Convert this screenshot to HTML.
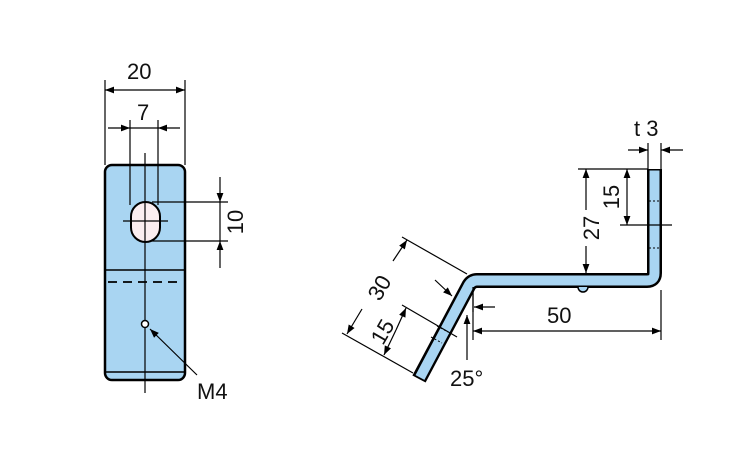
<!DOCTYPE html>
<html><head><meta charset="utf-8"><style>
html,body{margin:0;padding:0;background:#fff;width:750px;height:450px;overflow:hidden}
text{font-family:"Liberation Sans",sans-serif;font-size:22px;fill:#111}
</style></head><body>
<svg width="750" height="450" viewBox="0 0 750 450" xmlns="http://www.w3.org/2000/svg">
<defs>
<marker id="a" viewBox="0 0 10 10" refX="10" refY="5" markerWidth="13" markerHeight="9" markerUnits="userSpaceOnUse" orient="auto"><path d="M0,1.2 L10,5 L0,8.8 z" fill="#000"/></marker>
</defs>
<g stroke="#000" fill="none" stroke-width="1.2">
<rect x="105" y="165" width="80" height="215" rx="7" fill="#a9d5f2" stroke-width="2.5"/>
<line x1="105" y1="270" x2="185" y2="270" stroke-width="1.6"/>
<line x1="106" y1="372" x2="184" y2="372" stroke-width="1.6"/>
<line x1="108" y1="282" x2="183" y2="282" stroke-width="1.8" stroke-dasharray="9,6"/>
<rect x="131" y="202" width="29" height="40" rx="14.5" fill="#fbeef0" stroke-width="2"/>
<line x1="145" y1="153" x2="145" y2="393"/>
<line x1="123" y1="221" x2="168" y2="221"/>
<circle cx="145" cy="324" r="3.5" fill="#fff" stroke-width="1.5"/>
<line x1="197" y1="375" x2="150" y2="329" marker-end="url(#a)"/>
<line x1="105" y1="80" x2="105" y2="165"/><line x1="185" y1="80" x2="185" y2="165"/>
<line x1="145" y1="90" x2="105" y2="90" marker-end="url(#a)"/><line x1="145" y1="90" x2="185" y2="90" marker-end="url(#a)"/>
<line x1="130" y1="120" x2="130" y2="205"/><line x1="158" y1="120" x2="158" y2="205"/>
<line x1="108" y1="128" x2="130" y2="128" marker-end="url(#a)"/><line x1="180" y1="128" x2="158" y2="128" marker-end="url(#a)"/>
<line x1="130" y1="128" x2="158" y2="128"/>
<line x1="152" y1="202" x2="228" y2="202"/><line x1="152" y1="241" x2="228" y2="241"/>
<line x1="220" y1="177" x2="220" y2="202" marker-end="url(#a)"/><line x1="220" y1="268" x2="220" y2="241" marker-end="url(#a)"/>
<line x1="220" y1="202" x2="220" y2="241"/>
<path d="M654.5,169 L654.5,273 Q654.5,280.5 647,280.5 L477,280.5 Q472,280.5 469,285 L419,379" stroke="#000" stroke-width="15" stroke-linejoin="round"/>
<path d="M654.5,170.5 L654.5,273 Q654.5,280.5 647,280.5 L477,280.5 Q472,280.5 469,285 L420,377.5" stroke="#a9d5f2" stroke-width="10" stroke-linejoin="round"/>
<path d="M578,287 A5,5 0 0 0 588,287" fill="#a9d5f2" stroke-width="1.5"/>
<g stroke-width="1" stroke-dasharray="2,2"><line x1="649" y1="201" x2="660" y2="201"/><line x1="649" y1="248" x2="660" y2="248"/><line x1="437" y1="326" x2="448" y2="332"/><line x1="431" y1="337" x2="442" y2="343"/></g>
<line x1="648" y1="143" x2="648" y2="169"/><line x1="661" y1="143" x2="661" y2="169"/>
<line x1="628" y1="150" x2="648" y2="150" marker-end="url(#a)"/><line x1="683" y1="150" x2="661" y2="150" marker-end="url(#a)"/>
<line x1="578" y1="169" x2="648" y2="169"/><line x1="620" y1="225" x2="672" y2="225"/>
<line x1="627" y1="197" x2="627" y2="169" marker-end="url(#a)"/><line x1="627" y1="197" x2="627" y2="225" marker-end="url(#a)"/>
<line x1="586" y1="210" x2="586" y2="169" marker-end="url(#a)"/><line x1="586" y1="246" x2="586" y2="273" marker-end="url(#a)"/>
<line x1="473" y1="290" x2="473" y2="340"/><line x1="661" y1="290" x2="661" y2="340"/>
<line x1="567" y1="331" x2="473" y2="331" marker-end="url(#a)"/><line x1="567" y1="331" x2="661" y2="331" marker-end="url(#a)"/>
<line x1="467" y1="360" x2="467" y2="315" marker-end="url(#a)"/>
<line x1="435" y1="280" x2="452" y2="296" marker-end="url(#a)"/>
<line x1="495" y1="307" x2="474" y2="307" marker-end="url(#a)"/>
<line x1="473" y1="287" x2="473" y2="312"/>
<line x1="402" y1="237" x2="467" y2="274"/><line x1="342" y1="333" x2="413" y2="373"/>
<line x1="402" y1="305" x2="457" y2="337"/>
<line x1="393" y1="261" x2="407" y2="240" marker-end="url(#a)"/>
<line x1="362" y1="309" x2="347" y2="334" marker-end="url(#a)"/>
<line x1="396" y1="330" x2="406" y2="308" marker-end="url(#a)"/>
<line x1="396" y1="330" x2="384" y2="355" marker-end="url(#a)"/>
</g>
<text x="127" y="79">20</text>
<text x="137" y="120">7</text>
<text x="236" y="232" transform="rotate(-90 236 232)" text-anchor="middle" dy="7" dx="10">10</text>
<text x="197" y="399">M4</text>
<text x="634" y="136">t 3</text>
<text x="612" y="197" transform="rotate(-90 612 197)" text-anchor="middle" dy="7">15</text>
<text x="592" y="228" transform="rotate(-90 592 228)" text-anchor="middle" dy="7">27</text>
<text x="547" y="323">50</text>
<text x="450" y="386">25°</text>
<text x="380" y="288" transform="rotate(-60 380 288)" text-anchor="middle" dy="7">30</text>
<text x="383" y="332" transform="rotate(-60 383 332)" text-anchor="middle" dy="7">15</text>
</svg>
</body></html>
